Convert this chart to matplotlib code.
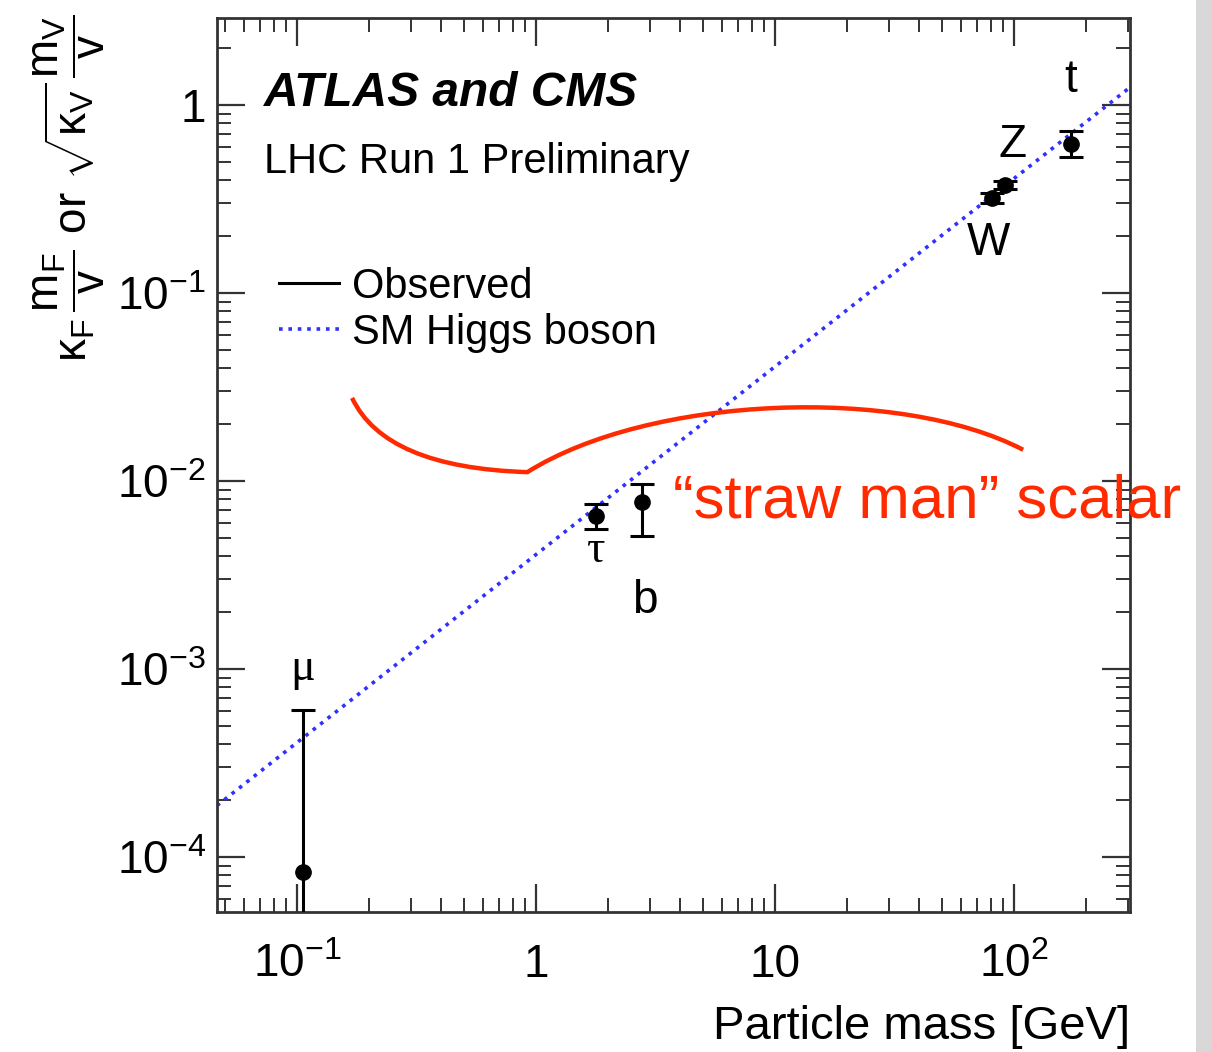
import numpy as np
import matplotlib
matplotlib.use("Agg")
import matplotlib.pyplot as plt
from matplotlib.lines import Line2D
from matplotlib.path import Path
from matplotlib.patches import PathPatch, Rectangle
from matplotlib.ticker import FixedLocator, FixedFormatter, LogLocator, NullFormatter

plt.rcParams['font.family'] = ['Liberation Sans', 'DejaVu Sans']
plt.rcParams['mathtext.fontset'] = 'custom'
plt.rcParams['mathtext.rm'] = 'Liberation Sans'
plt.rcParams['mathtext.it'] = 'Liberation Sans:italic'
plt.rcParams['mathtext.bf'] = 'Liberation Sans:bold'

# particle data (mass in GeV, reduced coupling)
particles = ['μ', 'τ', 'b', 'W', 'Z', 't']
mass = [0.1057, 1.777, 2.76, 80.4, 91.2, 172.5]
coupling = [8.3e-5, 6.5e-3, 7.7e-3, 0.32, 0.375, 0.62]
err_lo = [8.2e-5, 0.95e-3, 2.6e-3, 0.02, 0.02, 0.09]
err_hi = [5.2e-4, 1.05e-3, 1.95e-3, 0.02, 0.02, 0.105]
label_x = [0.1057, 1.777, 2.85, 77.8, 98.0, 172.5]
label_y = [1.0e-3, 4.25e-3, 2.3e-3, 0.185, 0.613, 1.36]
label_font = ['Liberation Serif', 'Liberation Serif', 'Liberation Sans',
              'Liberation Sans', 'Liberation Sans', 'Liberation Sans']

vev = 246.0
xlim = (0.0462, 305.0)
ylim = (5.1e-5, 2.9)

x_ticks = [0.1, 1, 10, 100]
x_tick_labels = ['$10^{-1}$', '1', '10', '$10^{2}$']
y_ticks = [1e-4, 1e-3, 1e-2, 1e-1, 1]
y_tick_labels = ['$10^{-4}$', '$10^{-3}$', '$10^{-2}$', '$10^{-1}$', '1']

red = '#ff2a00'

fig = plt.figure(figsize=(12.12, 10.52), dpi=100)
ax = fig.add_axes([0.179, 0.1331, 0.7533, 0.8498])
ax.set_xscale('log')
ax.set_yscale('log')
ax.set_xlim(*xlim)
ax.set_ylim(*ylim)

# SM expectation
xs = np.array(xlim)
ax.plot(xs, xs / vev, color='#3030ff', lw=2.6, ls=(0, (1, 1.6)), zorder=2)

# observed
ax.errorbar(mass, coupling, yerr=[err_lo, err_hi], fmt='o', color='black',
            ms=11, lw=2.2, capsize=8.5, capthick=2.2, zorder=3)

for name, x, y, fam in zip(particles, label_x, label_y, label_font):
    ax.text(x, y, name, ha='center', va='center', fontsize=33, family=fam)

ax.text(0.052, 0.915, 'ATLAS and CMS', transform=ax.transAxes, fontsize=34.5,
        fontweight='bold', fontstyle='italic', va='center')
ax.text(0.052, 0.839, 'LHC Run 1 Preliminary', transform=ax.transAxes,
        fontsize=30, va='center')

handles = [Line2D([], [], color='black', lw=2.2),
           Line2D([], [], color='#3030ff', lw=2.6, ls=(0, (1, 1.6)))]
ax.legend(handles, ['Observed', 'SM Higgs boson'], loc='upper left',
          bbox_to_anchor=(0.068, 0.722), frameon=False, fontsize=30,
          handlelength=1.45, handletextpad=0.3, labelspacing=0.15,
          borderaxespad=0, borderpad=0)

# hand drawn red annotation (axes fraction)
curve_x = [0.148, 0.184, 0.340, 0.474, 0.748, 0.883]
curve_y = [0.575, 0.497, 0.492, 0.578, 0.589, 0.517]
codes = [Path.MOVETO, Path.CURVE3, Path.CURVE3, Path.CURVE4, Path.CURVE4, Path.CURVE4]
path = Path(np.column_stack([curve_x, curve_y]), codes)
ax.add_patch(PathPatch(path, transform=ax.transAxes, fill=False,
                       edgecolor=red, lw=3.2, zorder=4))
ax.text(0.500, 0.459, '\u201cstraw man\u201d scalar', transform=ax.transAxes,
        color=red, fontsize=44.5, va='center', ha='left', zorder=5)

# axes style
ax.xaxis.set_major_locator(FixedLocator(x_ticks))
ax.xaxis.set_major_formatter(FixedFormatter(x_tick_labels))
ax.yaxis.set_major_locator(FixedLocator(y_ticks))
ax.yaxis.set_major_formatter(FixedFormatter(y_tick_labels))
ax.xaxis.set_minor_locator(LogLocator(base=10, subs=np.arange(2, 10), numticks=20))
ax.yaxis.set_minor_locator(LogLocator(base=10, subs=np.arange(2, 10), numticks=20))
ax.xaxis.set_minor_formatter(NullFormatter())
ax.yaxis.set_minor_formatter(NullFormatter())
ax.tick_params(which='both', direction='in', top=True, right=True,
               labelsize=33, color='#333333')
ax.tick_params(which='major', length=20, width=1.6)
ax.tick_params(which='minor', length=10, width=1.4)
ax.tick_params(axis='x', which='major', pad=22)
ax.tick_params(axis='y', which='major', pad=8)
for s in ax.spines.values():
    s.set_linewidth(2.0)
    s.set_color('#333333')

ax.set_xlabel('Particle mass [GeV]', fontsize=34, loc='right')
ax.xaxis.set_label_coords(1.0, -0.104)
ax.set_ylabel(r'$\mathrm{\kappa_F}\,\dfrac{\mathrm{m_F}}{\mathrm{v}}$ or '
              r'$\sqrt{\mathrm{\kappa_V}}\,\dfrac{\mathrm{m_V}}{\mathrm{v}}$',
              fontsize=33)
ax.yaxis.set_label_coords(-0.12, 0.81)

# grey window edge on the right
fig.patches.append(Rectangle((1196 / 1212, 0), 16 / 1212, 1, transform=fig.transFigure,
                             facecolor='#d8d8d8', edgecolor='none'))

fig.savefig('out.png', dpi=100)
